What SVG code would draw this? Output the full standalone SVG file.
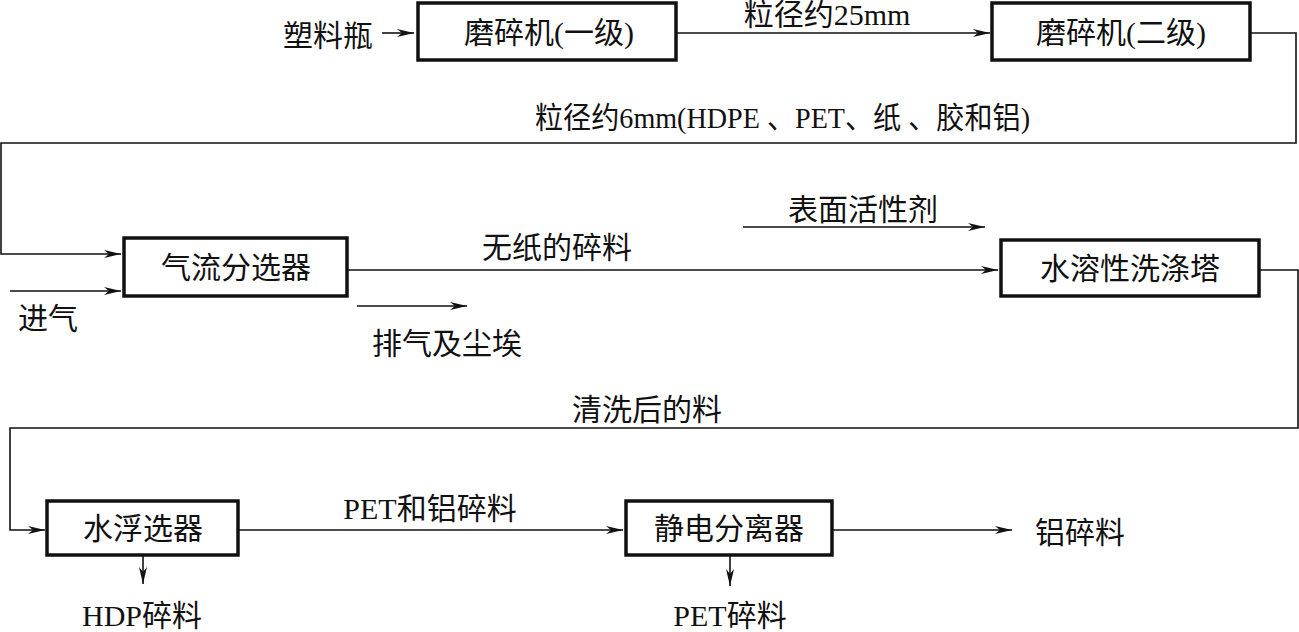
<svg xmlns="http://www.w3.org/2000/svg" width="1299" height="632" viewBox="0 0 1299 632">
<defs>
<marker id="ah" markerUnits="userSpaceOnUse" markerWidth="18" markerHeight="10" refX="17" refY="5" orient="auto">
<path d="M0,1 L17,5 L0,9 L5,5 z" fill="#111"/>
</marker>
<style>
.box{fill:#fff;stroke:#111;stroke-width:3.5}
.ln{fill:none;stroke:#111;stroke-width:1.6}
.t{font-family:"Liberation Serif","Noto Sans CJK SC",serif;font-size:30px;fill:#111}
.m{text-anchor:middle}
</style>
</defs>
<rect width="1299" height="632" fill="#fff"/>
<g id="connectors">
<line class="ln" x1="382" y1="33" x2="414" y2="33" marker-end="url(#ah)"/>
<line class="ln" x1="676" y1="33" x2="990" y2="33" marker-end="url(#ah)"/>
<polyline class="ln" points="1250,33 1296,33 1296,143 1,143 1,254 121,254" marker-end="url(#ah)"/>
<line class="ln" x1="10" y1="291" x2="121" y2="291" marker-end="url(#ah)"/>
<line class="ln" x1="347" y1="270" x2="998" y2="270" marker-end="url(#ah)"/>
<line class="ln" x1="357" y1="306" x2="467" y2="306" marker-end="url(#ah)"/>
<line class="ln" x1="743" y1="227" x2="985" y2="227" marker-end="url(#ah)"/>
<polyline class="ln" points="1259,270 1298,270 1298,428 10,428 10,530 45,530" marker-end="url(#ah)"/>
<line class="ln" x1="143" y1="555" x2="143" y2="584" marker-end="url(#ah)"/>
<line class="ln" x1="238" y1="530" x2="623" y2="530" marker-end="url(#ah)"/>
<line class="ln" x1="832" y1="530" x2="1012" y2="530" marker-end="url(#ah)"/>
<line class="ln" x1="730" y1="555" x2="730" y2="586" marker-end="url(#ah)"/>
</g>
<g id="labels">
<text class="t" x="283" y="46">塑料瓶</text>
<text class="t m" x="827" y="25">粒径约25mm</text>
<text class="t" x="535" y="128" textLength="495" lengthAdjust="spacingAndGlyphs">粒径约6mm(HDPE 、PET、纸 、胶和铝)</text>
<text class="t" x="18" y="329">进气</text>
<text class="t m" x="557" y="258">无纸的碎料</text>
<text class="t m" x="447" y="354">排气及尘埃</text>
<text class="t m" x="863" y="220">表面活性剂</text>
<text class="t m" x="647" y="420">清洗后的料</text>
<text class="t m" x="142" y="626">HDP碎料</text>
<text class="t m" x="430" y="519">PET和铝碎料</text>
<text class="t" x="1035" y="543">铝碎料</text>
<text class="t m" x="730" y="626">PET碎料</text>
</g>
<g id="n1"><rect class="box" x="418" y="3" width="258" height="57"/><text class="t m" x="549" y="43">磨碎机(一级)</text></g>
<g id="n2"><rect class="box" x="992" y="3" width="258" height="57"/><text class="t m" x="1121" y="43">磨碎机(二级)</text></g>
<g id="n3"><rect class="box" x="124" y="238" width="223" height="58"/><text class="t m" x="236" y="278">气流分选器</text></g>
<g id="n4"><rect class="box" x="1001" y="240" width="258" height="56"/><text class="t m" x="1130" y="279">水溶性洗涤塔</text></g>
<g id="n5"><rect class="box" x="47" y="501" width="191" height="54"/><text class="t m" x="143" y="539">水浮选器</text></g>
<g id="n6"><rect class="box" x="626" y="501" width="206" height="54"/><text class="t m" x="729" y="539">静电分离器</text></g>
</svg>
